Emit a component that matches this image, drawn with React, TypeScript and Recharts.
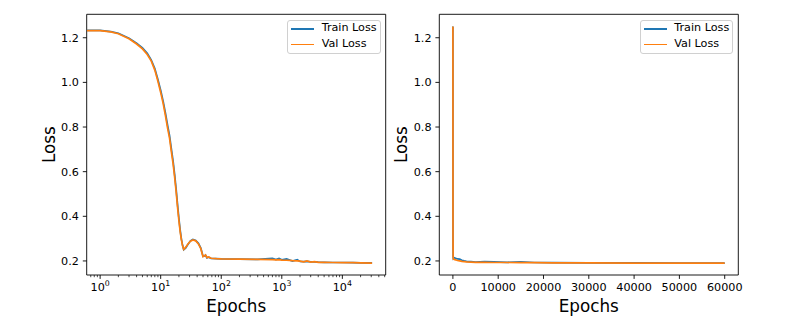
import { LineChart, Line, XAxis, YAxis, Legend, Label, ReferenceArea } from 'recharts';

const FONT = '"DejaVu Sans", sans-serif';
const TRAIN_COLOR = '#1f77b4';
const VAL_COLOR = '#ff7f0e';

// left panel: log x axis
const leftEpochs = [0.6, 1, 1.5, 2, 3, 4, 5, 6, 7, 8, 9, 10, 11, 12, 13, 14, 15, 16, 17, 18, 19, 20, 21, 22, 23, 24, 26, 28, 31, 34, 38, 42, 46, 50, 53, 55, 58, 62, 68, 83, 100, 200, 400, 700, 800, 900, 1000, 1200, 1500, 1800, 2000, 2300, 2600, 3000, 3500, 4000, 5000, 7000, 10000, 15000, 20000, 31000];
const leftTrain = [1.233, 1.233, 1.227, 1.22, 1.198, 1.176, 1.155, 1.13, 1.1, 1.062, 1.013, 0.965, 0.915, 0.862, 0.808, 0.762, 0.703, 0.65, 0.588, 0.522, 0.452, 0.39, 0.338, 0.298, 0.27, 0.25, 0.258, 0.273, 0.29, 0.296, 0.292, 0.279, 0.258, 0.221, 0.222, 0.226, 0.214, 0.217, 0.211, 0.21, 0.209, 0.208, 0.207, 0.212, 0.206, 0.211, 0.205, 0.209, 0.199, 0.206, 0.198, 0.197, 0.198, 0.196, 0.196, 0.195, 0.194, 0.193, 0.193, 0.192, 0.191, 0.191];
const leftVal = [1.232, 1.232, 1.226, 1.218, 1.195, 1.172, 1.15, 1.125, 1.095, 1.055, 1.005, 0.955, 0.905, 0.85, 0.795, 0.75, 0.69, 0.637, 0.575, 0.51, 0.44, 0.38, 0.33, 0.294, 0.268, 0.252, 0.262, 0.275, 0.288, 0.294, 0.29, 0.276, 0.255, 0.219, 0.224, 0.227, 0.215, 0.218, 0.212, 0.21, 0.209, 0.208, 0.207, 0.206, 0.205, 0.206, 0.204, 0.203, 0.201, 0.2, 0.199, 0.196, 0.2, 0.195, 0.197, 0.194, 0.194, 0.193, 0.192, 0.192, 0.191, 0.19];

// right panel: linear x axis
const rightEpochs = [0, 10, 15, 20, 24, 34, 50, 100, 300, 600, 1000, 1500, 2000, 2500, 3000, 4000, 5000, 7000, 9000, 12000, 15000, 18000, 22000, 30000, 40000, 50000, 60000];
const rightTrain = [1.25, 0.965, 0.703, 0.39, 0.25, 0.296, 0.221, 0.21, 0.214, 0.212, 0.209, 0.208, 0.203, 0.2, 0.198, 0.197, 0.195, 0.197, 0.196, 0.194, 0.196, 0.193, 0.192, 0.191, 0.191, 0.19, 0.19];
const rightVal = [1.25, 0.955, 0.69, 0.38, 0.252, 0.294, 0.219, 0.209, 0.207, 0.205, 0.202, 0.2, 0.198, 0.197, 0.196, 0.195, 0.194, 0.194, 0.193, 0.193, 0.192, 0.192, 0.191, 0.191, 0.19, 0.19, 0.19];

const yTicks = [0.2, 0.4, 0.6, 0.8, 1.0, 1.2];
const yDomain = [0.137, 1.305];
const logMajor = [1, 10, 100, 1000, 10000];
const logMinor = [0.7, 0.8, 0.9, 2, 3, 4, 5, 6, 7, 8, 9, 20, 30, 40, 50, 60, 70, 80, 90, 200, 300, 400, 500, 600, 700, 800, 900, 2000, 3000, 4000, 5000, 6000, 7000, 8000, 9000, 20000, 30000, 40000, 50000];
const linTicks = [0, 10000, 20000, 30000, 40000, 50000, 60000];

const leftData = leftEpochs.map((e, i) => ({ epoch: e, train: leftTrain[i], val: leftVal[i] }));
const rightData = rightEpochs.map((e, i) => ({ epoch: e, train: rightTrain[i], val: rightVal[i] }));

const tickStyle = { fontSize: 11.2, fill: '#000', fontFamily: FONT };

function LogTick(props: any) {
  const { x, y, payload } = props;
  const v = payload.value;
  const major = logMajor.includes(v);
  const len = major ? 3.9 : 2.2;
  return (
    <g>
      <line x1={x} x2={x} y1={y} y2={y + len} stroke="#000" strokeWidth={major ? 0.9 : 0.7} />
      {major && (
        <text x={x} y={y + 16} textAnchor="middle" fontSize={11.2} fontFamily={FONT} fill="#000">
          10<tspan dy={-5.2} fontSize={7.8}>{Math.round(Math.log10(v))}</tspan>
        </text>
      )}
    </g>
  );
}

function LegendBox(props: any) {
  const items = props.payload || [];
  return (
    <div
      style={{
        width: 93.4,
        height: 34,
        boxSizing: 'border-box',
        border: '1px solid #d0d0d0',
        borderRadius: 3,
        background: 'rgba(255,255,255,0.8)',
        position: 'relative',
        fontFamily: FONT,
        fontSize: 11.2,
        color: '#000',
      }}
    >
      {items.map((it: any, i: number) => (
        <div key={it.value} style={{ position: 'absolute', left: 0, top: 8.3 + i * 15.4 - 1, width: '100%' }}>
          <div style={{ position: 'absolute', left: 3.2, top: 0, width: 23, height: 1.7, background: it.color }} />
          <div style={{ position: 'absolute', left: 33.4, top: -7, lineHeight: '14px', whiteSpace: 'nowrap' }}>{it.value}</div>
        </div>
      ))}
    </div>
  );
}

function Panel({ data, log, offsetLeft, width, yAxisWidth, rightMargin, legendLeft, labelOffset }: any) {
  const xDomain = log ? [0.6, 52000] : [-3000, 63000];
  return (
    <div style={{ position: 'absolute', left: offsetLeft, top: 0 }}>
      <LineChart width={width} height={322} data={data} margin={{ top: 14.3, right: rightMargin, left: 0, bottom: 0 }}>
        {log ? (
          <XAxis
            dataKey="epoch"
            type="number"
            scale="log"
            domain={xDomain}
            allowDataOverflow
            ticks={[...logMajor, ...logMinor].sort((a, b) => a - b)}
            interval={0}
            tick={<LogTick />}
            tickLine={false}
            tickSize={0}
            tickMargin={0}
            axisLine={false}
            height={47}
          >
            <Label value="Epochs" position="insideBottom" offset={10.4} style={{ fontSize: 16.8, fontFamily: FONT, fill: '#000' }} />
          </XAxis>
        ) : (
          <XAxis
            dataKey="epoch"
            type="number"
            domain={xDomain}
            allowDataOverflow
            ticks={linTicks}
            interval={0}
            tick={tickStyle}
            tickLine={{ stroke: '#000', strokeWidth: 0.9 }}
            tickSize={3.9}
            tickMargin={3.9}
            axisLine={false}
            height={47}
          >
            <Label value="Epochs" position="insideBottom" offset={10.4} style={{ fontSize: 16.8, fontFamily: FONT, fill: '#000' }} />
          </XAxis>
        )}
        <YAxis
          type="number"
          domain={yDomain}
          allowDataOverflow
          ticks={yTicks}
          interval={0}
          tickFormatter={(v: number) => v.toFixed(1)}
          tick={tickStyle}
          tickLine={{ stroke: '#000', strokeWidth: 0.9 }}
          tickSize={3.9}
          tickMargin={3.9}
          axisLine={false}
          width={yAxisWidth}
        >
          <Label value="Loss" angle={-90} position="insideLeft" offset={labelOffset} style={{ fontSize: 16.8, fontFamily: FONT, fill: '#000', textAnchor: 'middle' }} />
        </YAxis>
        <Line type="linear" dataKey="train" name="Train Loss" stroke={TRAIN_COLOR} strokeWidth={1.7} dot={false} isAnimationActive={false} />
        <Line type="linear" dataKey="val" name="Val Loss" stroke={VAL_COLOR} strokeWidth={1.7} dot={false} isAnimationActive={false} />
        <ReferenceArea
          x1={xDomain[0]}
          x2={xDomain[1]}
          y1={yDomain[0]}
          y2={yDomain[1]}
          fill="none"
          fillOpacity={0}
          stroke="#000"
          strokeWidth={0.9}
          ifOverflow="visible"
        />
        <Legend
          layout="vertical"
          align="center"
          verticalAlign="middle"
          content={<LegendBox />}
          wrapperStyle={{ left: legendLeft, top: 20, width: 94, height: 34 }}
        />
      </LineChart>
    </div>
  );
}

export default function App() {
  return (
    <div style={{ position: 'absolute', left: 0, top: 0, width: 807, height: 322, background: '#fff' }}>
      <Panel data={leftData} log offsetLeft={0} width={400} yAxisWidth={86.7} rightMargin={14.3} legendLeft={287.3} labelOffset={48.8} />
      <Panel data={rightData} log={false} offsetLeft={380} width={427} yAxisWidth={59.3} rightMargin={68.7} legendLeft={259.9} labelOffset={21} />
    </div>
  );
}
